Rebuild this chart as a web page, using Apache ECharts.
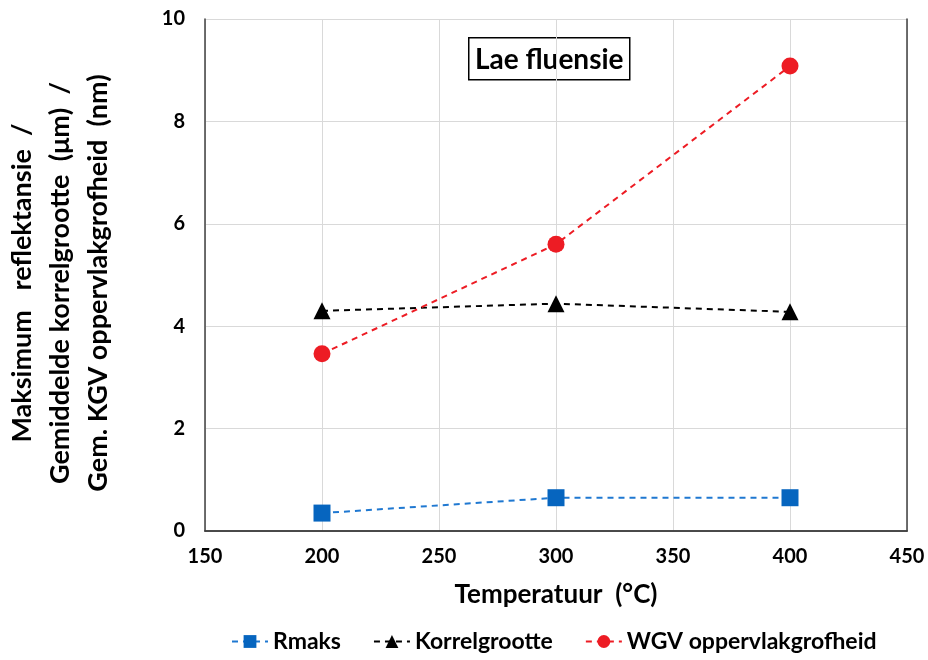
<!DOCTYPE html>
<html>
<head>
<meta charset="utf-8">
<script src="https://cdn.jsdelivr.net/npm/echarts@6/dist/echarts.min.js"></script>
<style>html,body{margin:0;padding:0;background:#fff}#c{width:928px;height:660px}</style>
</head>
<body>
<div id="c"></div>
<script>
var temps = [200, 300, 400];
var rmaks = [0.35, 0.65, 0.65];
var korrel = [4.30, 4.44, 4.28];
var wgv = [3.46, 5.60, 9.08];
var seriesNames = ['Rmaks', 'Korrelgrootte', 'WGV oppervlakgrofheid'];
var xTitle = 'Temperatuur  (°C)';
var yTitle = 'Maksimum   reflektansie  /\nGemiddelde korrelgrootte  (μm)  /\nGem. KGV oppervlakgrofheid  (nm)';
var boxText = 'Lae fluensie';

var FONT = 'Lato';
function pairs(ys){ return temps.map(function(t,i){ return [t, ys[i]]; }); }

var chart = echarts.init(document.getElementById('c'), null, {renderer:'canvas'});
var axisLineStyle = {color:'#404040', width:1.5};
chart.setOption({
  animation:false,
  textStyle:{fontFamily:FONT},
  grid:{left:205, right:21, top:19, bottom:129, containLabel:false, outerBoundsMode:'none'},
  xAxis:[{
    type:'value', min:150, max:450, interval:50,
    axisLine:{show:true, onZero:false, lineStyle:axisLineStyle},
    axisTick:{show:false},
    axisLabel:{color:'#000', fontSize:20, fontWeight:'bold', fontFamily:FONT, margin:16},
    splitLine:{show:true, lineStyle:{color:'#d9d9d9', width:1}},
    name:xTitle, nameLocation:'middle', nameGap:51,
    nameTextStyle:{color:'#000', fontSize:26, fontWeight:'bold', fontFamily:FONT}
  },{
    type:'value', position:'top', min:150, max:450, interval:50,
    axisLine:{show:true, lineStyle:axisLineStyle}, axisTick:{show:false},
    axisLabel:{show:false}, splitLine:{show:false}
  }],
  yAxis:[{
    type:'value', min:0, max:10, interval:2,
    axisLine:{show:true, onZero:false, lineStyle:axisLineStyle},
    axisTick:{show:false},
    axisLabel:{color:'#000', fontSize:20, fontWeight:'bold', fontFamily:FONT, margin:20},
    splitLine:{show:true, lineStyle:{color:'#d9d9d9', width:1}},
    name:yTitle, nameLocation:'middle', nameGap:88, nameRotate:90,
    nameTextStyle:{color:'#000', fontSize:27, fontWeight:'bold', fontFamily:FONT, lineHeight:38, align:'center', padding:[0,16,0,0]}
  },{
    type:'value', position:'right', min:0, max:10, interval:2,
    axisLine:{show:true, lineStyle:axisLineStyle}, axisTick:{show:false},
    axisLabel:{show:false}, splitLine:{show:false}
  }],
  legend:{
    bottom:2, left:226, itemGap:32, itemWidth:36, itemHeight:16,
    textStyle:{color:'#000', fontSize:23, fontWeight:'bold', fontFamily:FONT},
    data:seriesNames
  },
  graphic:[{
    type:'group', left:468, top:37,
    children:[
      {type:'rect', shape:{x:0,y:0,width:161,height:42}, style:{fill:'#fff', stroke:'#000', lineWidth:1.5}},
      {type:'text', x:80.5, y:22, style:{text:boxText, align:'center', verticalAlign:'middle', font:'bold 28px Lato', fill:'#000'}}
    ]
  }],
  series:[
    {name:seriesNames[0], type:'line', data:pairs(rmaks), symbol:'rect', symbolSize:17,
     itemStyle:{color:'#0665BF'}, lineStyle:{color:'#1f78d1', type:[6,5], width:2}},
    {name:seriesNames[1], type:'line', data:pairs(korrel), symbol:'triangle', symbolSize:17,
     itemStyle:{color:'#000'}, lineStyle:{color:'#000', type:[6,5], width:2}},
    {name:seriesNames[2], type:'line', data:pairs(wgv), symbol:'circle', symbolSize:17,
     itemStyle:{color:'#ED1C24'}, lineStyle:{color:'#ED1C24', type:[6,5], width:2}}
  ]
});
</script>
</body>
</html>
